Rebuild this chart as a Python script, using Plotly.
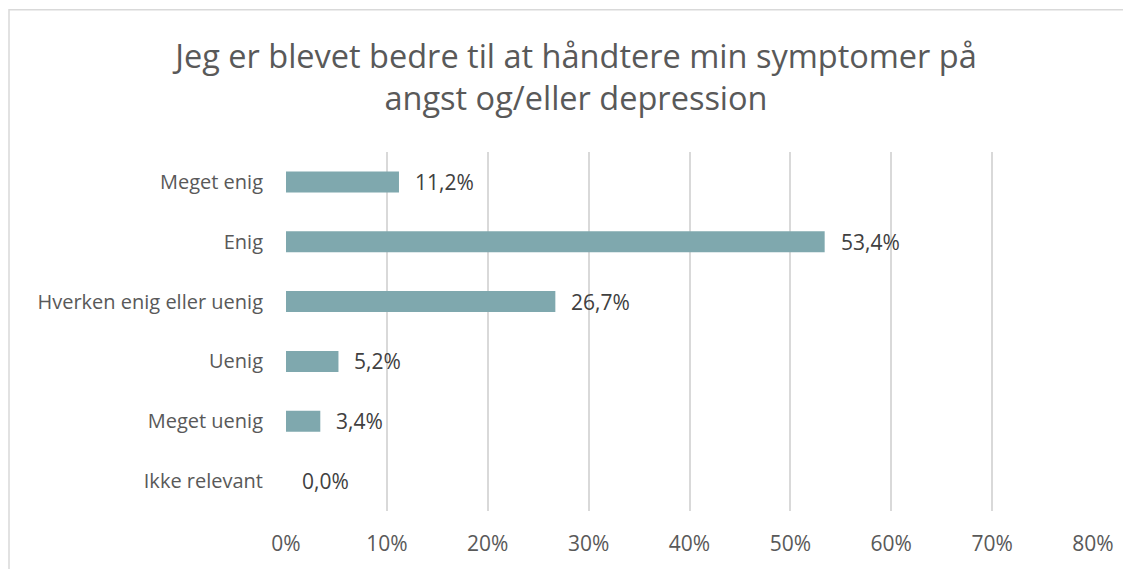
import plotly.graph_objects as go

categories = ["Meget enig", "Enig", "Hverken enig eller uenig", "Uenig", "Meget uenig", "Ikke relevant"]
values = [11.2, 53.4, 26.7, 5.2, 3.4, 0.0]
labels = ["11,2%", "53,4%", "26,7%", "5,2%", "3,4%", "0,0%"]
tick_vals = [0, 10, 20, 30, 40, 50, 60, 70, 80]
tick_text = ["0%", "10%", "20%", "30%", "40%", "50%", "60%", "70%", "80%"]

FONT = "Open Sans"
OFF = 8  # body margin of the page
fig = go.Figure()
fig.add_trace(go.Bar(
    x=values, y=categories, orientation="h",
    marker=dict(color="#7FA8AE", line=dict(width=0)),
    width=0.35, hoverinfo="skip",
))
for v, c, t in zip(values, categories, labels):
    fig.add_annotation(x=v, y=c, text=t, showarrow=False, xanchor="left",
                       xshift=14, font=dict(family=FONT, size=21, color="#404040"))

W, H = 1131 - OFF, 569 - OFF
l, t = 286 - OFF, 152 - OFF
r = W - (1093 - OFF)
b = H - (513 - OFF)
pw, ph = W - l - r, H - t - b
x0 = (9 - OFF - l) / pw
x1 = (W + 30 - l) / pw
y1 = 1 + (t - (9 - OFF)) / ph
y0 = -(b + 30) / ph
fig.add_shape(type="rect", xref="paper", yref="paper", x0=x0, x1=x1, y0=y0, y1=y1,
              line=dict(color="#D9D9D9", width=1.5), fillcolor="rgba(0,0,0,0)", layer="below")

fig.update_layout(
    width=W, height=H,
    margin=dict(l=l, r=r, t=t, b=b),
    paper_bgcolor="white", plot_bgcolor="white",
    showlegend=False,
    title=dict(text="Jeg er blevet bedre til at håndtere min symptomer på<br>angst og/eller depression",
               x=(576 - OFF) / W, xanchor="center", y=1 - (68 - OFF) / H, yanchor="middle",
               font=dict(family=FONT, size=32.5, color="#595959")),
    font=dict(family=FONT, color="#595959"),
    xaxis=dict(range=[0, 80], tickvals=tick_vals, ticktext=tick_text,
               showgrid=True, gridcolor="#D9D9D9", gridwidth=1.5, zeroline=False,
               showline=False, ticks="", ticklabelstandoff=18,
               tickfont=dict(family=FONT, size=21, color="#595959"), fixedrange=True),
    yaxis=dict(categoryorder="array", categoryarray=categories[::-1],
               showgrid=False, zeroline=False, showline=False, ticks="",
               ticklabelstandoff=22,
               tickfont=dict(family=FONT, size=20, color="#595959"), fixedrange=True),
)
fig.write_html("out.html")
